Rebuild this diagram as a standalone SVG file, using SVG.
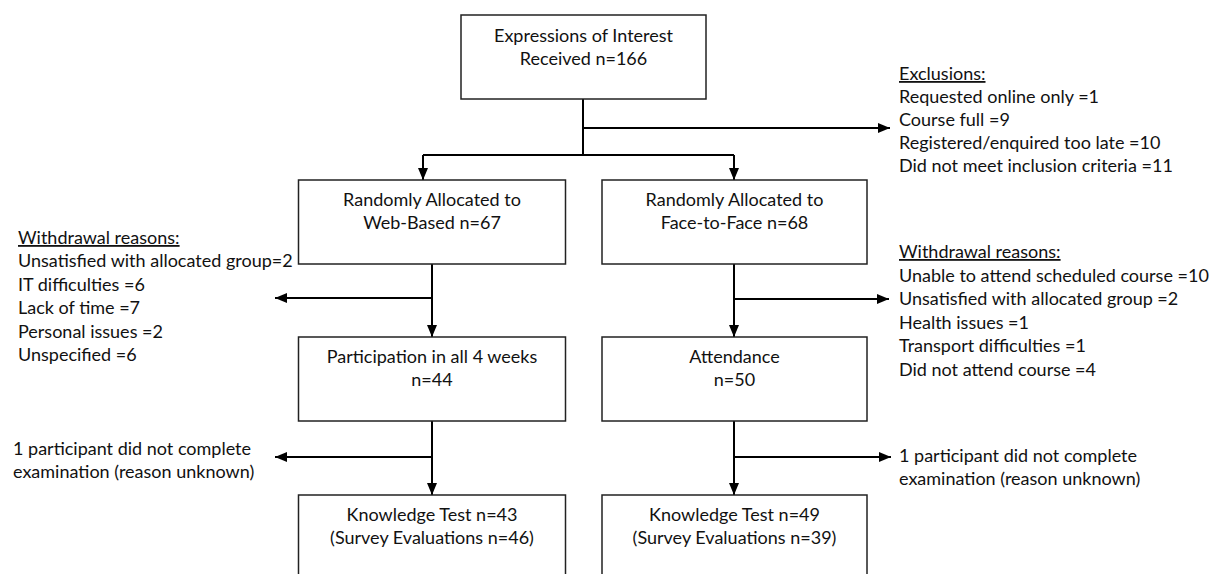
<svg xmlns="http://www.w3.org/2000/svg" width="1213" height="574" viewBox="0 0 1213 574">
<style>
  .box { fill: #ffffff; stroke: #222222; stroke-width: 1.5; }
  .t { font-family: Lato, "Open Sans", "Liberation Sans", sans-serif; font-size: 18px; fill: #111111; }
  .c { text-anchor: middle; }
  .u { text-decoration: underline; }
  .ln { fill: none; stroke: #000000; stroke-width: 2; }
  .ar { fill: none; stroke: #000000; stroke-width: 2; marker-end: url(#ah); }
</style>
<defs>
  <marker id="ah" viewBox="0 0 12 10" refX="12" refY="5" markerWidth="12" markerHeight="10" markerUnits="userSpaceOnUse" orient="auto">
    <path d="M0,0 L12,5 L0,10 Z" fill="#000000"/>
  </marker>
</defs>
<rect width="1213" height="574" fill="#ffffff"/>

<g id="connectors">
  <path class="ln" d="M583,99 V155"/>
  <path class="ln" d="M423,155 H734"/>
  <path class="ar" d="M423,155 V180"/>
  <path class="ar" d="M734,155 V180"/>
  <path class="ar" d="M583,128 H890"/>
  <path class="ar" d="M432,264 V337"/>
  <path class="ar" d="M432,298 H275"/>
  <path class="ar" d="M734,264 V337"/>
  <path class="ar" d="M734,299 H889"/>
  <path class="ar" d="M432,421 V495"/>
  <path class="ar" d="M432,457 H275"/>
  <path class="ar" d="M734,421 V495"/>
  <path class="ar" d="M734,457 H891"/>
</g>

<g id="n-interest">
  <rect class="box" x="461" y="15" width="245" height="84"/>
  <text class="t c" x="583.5" y="42">Expressions of Interest</text>
  <text class="t c" x="583.5" y="65">Received n=166</text>
</g>

<g id="n-web">
  <rect class="box" x="298.5" y="180" width="267" height="84"/>
  <text class="t c" x="432" y="206">Randomly Allocated to</text>
  <text class="t c" x="432" y="229">Web-Based n=67</text>
</g>

<g id="n-f2f">
  <rect class="box" x="602" y="180" width="265" height="84"/>
  <text class="t c" x="734.5" y="206">Randomly Allocated to</text>
  <text class="t c" x="734.5" y="229">Face-to-Face n=68</text>
</g>

<g id="n-participation">
  <rect class="box" x="298.5" y="337" width="267" height="84"/>
  <text class="t c" x="432" y="363">Participation in all 4 weeks</text>
  <text class="t c" x="432" y="386">n=44</text>
</g>

<g id="n-attendance">
  <rect class="box" x="602" y="337" width="265" height="84"/>
  <text class="t c" x="734.5" y="363">Attendance</text>
  <text class="t c" x="734.5" y="386">n=50</text>
</g>

<g id="n-knowledge-web">
  <rect class="box" x="298.5" y="495" width="267" height="90"/>
  <text class="t c" x="432" y="521">Knowledge Test n=43</text>
  <text class="t c" x="432" y="544">(Survey Evaluations n=46)</text>
</g>

<g id="n-knowledge-f2f">
  <rect class="box" x="602" y="495" width="265" height="90"/>
  <text class="t c" x="734.5" y="521">Knowledge Test n=49</text>
  <text class="t c" x="734.5" y="544">(Survey Evaluations n=39)</text>
</g>

<g id="n-exclusions">
  <text class="t u" x="899" y="80">Exclusions:</text>
  <text class="t" x="899" y="103">Requested online only =1</text>
  <text class="t" x="899" y="126">Course full =9</text>
  <text class="t" x="899" y="149">Registered/enquired too late =10</text>
  <text class="t" x="899" y="172">Did not meet inclusion criteria =11</text>
</g>

<g id="n-withdrawal-web">
  <text class="t u" x="18" y="244">Withdrawal reasons:</text>
  <text class="t" x="18" y="267.4">Unsatisfied with allocated group=2</text>
  <text class="t" x="18" y="290.8">IT difficulties =6</text>
  <text class="t" x="18" y="314.2">Lack of time =7</text>
  <text class="t" x="18" y="337.6">Personal issues =2</text>
  <text class="t" x="18" y="361">Unspecified =6</text>
</g>

<g id="n-withdrawal-f2f">
  <text class="t u" x="899" y="258">Withdrawal reasons:</text>
  <text class="t" x="899" y="281.5">Unable to attend scheduled course =10</text>
  <text class="t" x="899" y="305">Unsatisfied with allocated group =2</text>
  <text class="t" x="899" y="328.5">Health issues =1</text>
  <text class="t" x="899" y="352">Transport difficulties =1</text>
  <text class="t" x="899" y="375.5">Did not attend course =4</text>
</g>

<g id="n-exam-web">
  <text class="t" x="13" y="455">1 participant did not complete</text>
  <text class="t" x="13" y="478">examination (reason unknown)</text>
</g>

<g id="n-exam-f2f">
  <text class="t" x="899" y="462">1 participant did not complete</text>
  <text class="t" x="899" y="485">examination (reason unknown)</text>
</g>
</svg>
